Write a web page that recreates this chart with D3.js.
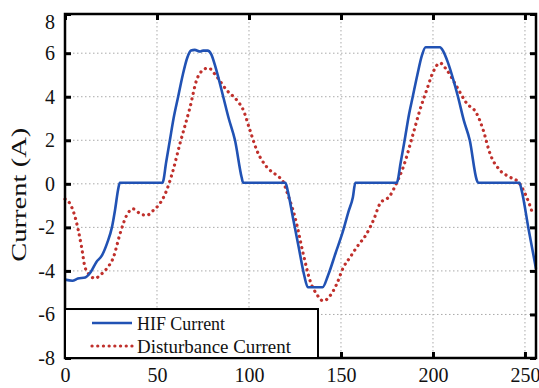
<!DOCTYPE html>
<html>
<head>
<meta charset="utf-8">
<title>HIF vs Disturbance Current</title>
<script src="https://d3js.org/d3.v7.min.js"></script>
<style>
  body { margin: 0; background: #fff; }
  .grid line { stroke: #aaa; stroke-width: 1; stroke-dasharray: 1.5,2.5; }
  .axis .domain { display: none; }
  .axis line { stroke: #000; stroke-width: 3; }
</style>
</head>
<body>
<script>
// ticks
var xTicks = [0, 50, 100, 150, 200, 250];
var yTicks = [-8, -6, -4, -2, 0, 2, 4, 6, 8];

// HIF Current (blue, solid)
var hifX = [0, 4, 7, 11, 14, 17, 20, 23, 25.5, 27.2, 29, 29.8, 53, 55, 57, 59, 61.5, 64, 66.5, 68.5, 70.5, 73.5, 75, 77.5, 79.5, 82, 86, 89, 92.4, 96, 96.8,
            119.8, 121, 124, 127, 130, 132, 140, 143, 147, 151, 154, 156.5, 157.8,
            180.3, 182.5, 184.6, 187, 189, 191.5, 194, 196, 203.8, 205.5, 208, 211, 213.6, 216.8, 220, 223.7, 224.5,
            247, 248.2, 252, 256];
var hifY = [-4.4, -4.45, -4.35, -4.3, -4.05, -3.6, -3.3, -2.7, -2.0, -1.2, -0.2, 0.05, 0.05, 1.0, 2.0, 3.0, 4.0, 5.0, 5.8, 6.12, 6.15, 6.08, 6.12, 6.12, 5.95, 5.3, 4.0, 3.0, 2.0, 0.3, 0.05,
            0.05, -0.3, -1.6, -2.9, -4.2, -4.75, -4.75, -4.2, -3.2, -2.2, -1.3, -0.6, 0.05,
            0.05, 1.0, 2.0, 3.2, 4.0, 5.0, 5.9, 6.27, 6.27, 6.1, 5.6, 4.8, 4.0, 2.9, 2.0, 0.2, 0.05,
            0.05, -0.3, -2.1, -3.9];

// Disturbance Current (red, dotted)
var distX = [0, 1.8, 5.4, 9, 10.9, 13.6, 16.3, 19, 22.6, 26.3, 29.9, 33.5, 37, 40.8, 44.4, 48, 51.6, 55, 58, 62.5, 67.9, 71.6, 75.2, 77.9, 82.4, 87.9, 93.3, 96.9, 100.5, 104.2, 109.6, 115, 118.7,
             120.5, 125, 129.5, 133.2, 136.8, 140.4, 144, 147.7, 151.3, 154.9, 158.5, 163.9, 168, 171.2, 176.6, 180, 183.9, 189.3, 192.9, 196.6, 200.2, 203.8, 207.4, 212.9, 218.3, 223.7,
             227.3, 231, 236.4, 241.8, 246.4, 249.5, 252.7, 254.2];
var distY = [-0.7, -0.8, -1.5, -2.9, -3.84, -4.2, -4.35, -4.2, -3.9, -3.38, -2.3, -1.45, -1.15, -1.37, -1.45, -1.22, -0.9, -0.35, 0.4, 1.85, 3.5, 4.78, 5.24, 5.32, 4.93, 4.3, 3.85, 3.39, 2.47, 1.55, 0.78, 0.39, 0.08,
             -0.35, -1.53, -3.22, -4.45, -5.07, -5.38, -5.15, -4.6, -3.84, -3.38, -2.92, -2.3, -1.6, -0.91, -0.55, 0.0, 0.78, 2.32, 3.39, 4.31, 5.16, 5.55, 5.24, 4.47, 3.7, 3.24,
             2.47, 1.39, 0.62, 0.31, 0.08, -0.35, -1.0, -1.38];

var seriesNames = ["HIF Current", "Disturbance Current"];

var serif = "'Liberation Serif'";
var width = 539, height = 388;
var margin = {top: 14, right: 3, bottom: 30, left: 65};
var plotW = width - margin.left - margin.right,
    plotH = height - margin.top - margin.bottom;

var x = d3.scaleLinear().domain([0, 256]).range([0, plotW]);
var y = d3.scaleLinear().domain([-8, 7.8]).range([plotH, 0]).clamp(true);

var svg = d3.select("body").append("svg")
    .attr("width", width)
    .attr("height", height)
  .append("g")
    .attr("transform", "translate(" + margin.left + "," + margin.top + ")");

// grid
var grid = svg.append("g").attr("class", "grid");
grid.selectAll("line.v")
  .data(xTicks.filter(function(d) { return d > 0; }))
  .enter().append("line")
    .attr("x1", function(d) { return x(d); })
    .attr("x2", function(d) { return x(d); })
    .attr("y1", 0)
    .attr("y2", plotH);
grid.selectAll("line.h")
  .data(yTicks.filter(function(d) { return d > -8 && d < 8; }))
  .enter().append("line")
    .attr("x1", 0)
    .attr("x2", plotW)
    .attr("y1", function(d) { return y(d); })
    .attr("y2", function(d) { return y(d); });

// curves
var line = d3.line()
    .x(function(d) { return x(d[0]); })
    .y(function(d) { return y(d[1]); })
    .curve(d3.curveMonotoneX);

var hif = hifX.map(function(v, i) { return [v, hifY[i]]; });
var dist = distX.map(function(v, i) { return [v, distY[i]]; });

svg.append("path")
    .datum(dist)
    .attr("fill", "none")
    .attr("stroke", "#c0302c")
    .attr("stroke-width", 3.2)
    .attr("stroke-linecap", "round")
    .attr("stroke-dasharray", "0.1,5.6")
    .attr("d", line);

svg.append("path")
    .datum(hif)
    .attr("fill", "none")
    .attr("stroke", "#2152b4")
    .attr("stroke-width", 2.6)
    .attr("stroke-linejoin", "round")
    .attr("d", line);

// axes (ticks point inward), plain hyphen for negatives
var fmt = function(d) { return String(d); };

svg.append("g")
    .attr("class", "axis")
    .attr("transform", "translate(0," + plotH + ")")
    .call(d3.axisBottom(x).tickValues(xTicks).tickSize(-6).tickPadding(10).tickFormat(fmt))
  .selectAll("text")
    .attr("dy", "0.71em")
    .style("font-family", serif)
    .style("font-size", "20px")
    .style("fill", "#111");

svg.append("g")
    .attr("class", "axis")
    .call(d3.axisTop(x).tickValues(xTicks).tickSize(-6).tickFormat(""));

var yAx = svg.append("g")
    .attr("class", "axis")
    .call(d3.axisLeft(y).tickValues(yTicks).tickSize(-6).tickPadding(10).tickFormat(fmt));
yAx.selectAll("text")
    .style("font-family", serif)
    .style("font-size", "20px")
    .style("fill", "#111");
yAx.selectAll(".tick")
    .filter(function(d) { return d === 8; })
    .select("text")
    .attr("dy", "0.7em");

svg.append("g")
    .attr("class", "axis")
    .attr("transform", "translate(" + plotW + ",0)")
    .call(d3.axisRight(y).tickValues(yTicks).tickSize(-6).tickFormat(""));

// frame
svg.append("rect")
    .attr("width", plotW)
    .attr("height", plotH)
    .attr("fill", "none")
    .attr("stroke", "#000")
    .attr("stroke-width", 2.5);

// y label
svg.append("text")
    .attr("transform", "translate(" + (19 - margin.left) + "," + y(-0.5) + ") rotate(-90)")
    .attr("text-anchor", "middle")
    .attr("dy", "0.35em")
    .attr("textLength", 134)
    .attr("lengthAdjust", "spacingAndGlyphs")
    .style("font-family", serif)
    .style("font-size", "21px")
    .style("fill", "#111")
    .text("Current (A)");

// legend
var legTop = y(-5.75);
var legend = svg.append("g");
legend.append("rect")
    .attr("x", 0)
    .attr("y", legTop)
    .attr("width", 253)
    .attr("height", plotH - legTop)
    .attr("fill", "#fff")
    .attr("stroke", "#000")
    .attr("stroke-width", 2);

var legLen = [88, 154];
var items = legend.selectAll("g.item")
  .data(seriesNames)
  .enter().append("g")
    .attr("transform", function(d, i) { return "translate(0," + (legTop + 14 + i * 23) + ")"; });

items.append("line")
    .attr("x1", 27)
    .attr("x2", 67)
    .attr("y1", 0)
    .attr("y2", 0)
    .attr("stroke", function(d, i) { return i ? "#c0302c" : "#2152b4"; })
    .attr("stroke-width", function(d, i) { return i ? 3.2 : 2.6; })
    .attr("stroke-linecap", function(d, i) { return i ? "round" : "butt"; })
    .attr("stroke-dasharray", function(d, i) { return i ? "0.1,5.6" : null; });

items.append("text")
    .attr("x", 72)
    .attr("dy", "0.36em")
    .attr("textLength", function(d, i) { return legLen[i]; })
    .attr("lengthAdjust", "spacingAndGlyphs")
    .style("font-family", serif)
    .style("font-size", "19px")
    .style("fill", "#111")
    .text(function(d) { return d; });
</script>
</body>
</html>
